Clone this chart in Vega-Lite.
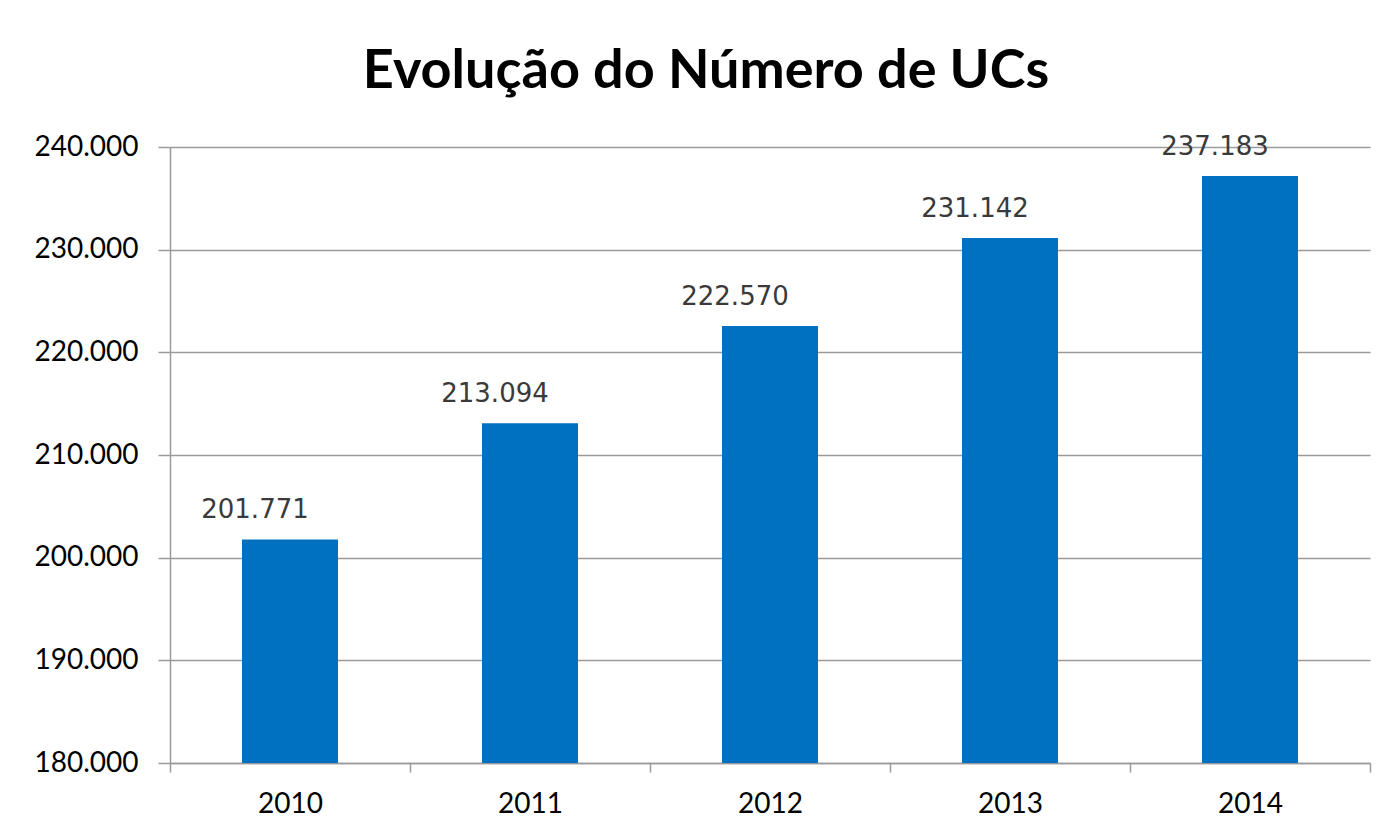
{
  "$schema": "https://vega.github.io/schema/vega-lite/v6.json",
  "width": 1200,
  "height": 616,
  "autosize": {"type": "none"},
  "padding": {"left": 170, "top": 147, "right": 17, "bottom": 76},
  "background": "white",
  "config": {
    "locale": {"number": {"decimal": ",", "thousands": ".", "grouping": [3], "currency": ["R$", ""]}},
    "view": {"stroke": null},
    "font": "Lato"
  },
  "title": {
    "text": "Evolução do Número de UCs",
    "font": "Lato",
    "fontSize": 54,
    "fontWeight": "bold",
    "color": "#000000",
    "anchor": "middle",
    "offset": 34,
    "dx": -64
  },
  "data": {
    "values": [
      {"ano": "2010", "ucs": 201771},
      {"ano": "2011", "ucs": 213094},
      {"ano": "2012", "ucs": 222570},
      {"ano": "2013", "ucs": 231142},
      {"ano": "2014", "ucs": 237183}
    ]
  },
  "encoding": {
    "x": {
      "field": "ano",
      "type": "nominal",
      "sort": null,
      "scale": {"paddingInner": 0, "paddingOuter": 0},
      "axis": {
        "title": null,
        "labelAngle": 0,
        "labelFont": "Lato",
        "labelFontSize": 28,
        "labelColor": "#000000",
        "labelPadding": 18,
        "tickBand": "extent",
        "tickSize": 9,
        "tickColor": "#9a9a9a",
        "tickWidth": 1.5,
        "domainColor": "#9a9a9a",
        "domainWidth": 1.5,
        "grid": false
      }
    },
    "y": {
      "field": "ucs",
      "type": "quantitative",
      "scale": {"domain": [180000, 240000], "zero": false, "nice": false},
      "axis": {
        "title": null,
        "values": [180000, 190000, 200000, 210000, 220000, 230000, 240000],
        "format": ",d",
        "labelFont": "Lato",
        "labelFontSize": 28,
        "labelColor": "#000000",
        "labelPadding": 20,
        "tickSize": 12,
        "tickColor": "#9a9a9a",
        "tickWidth": 1.5,
        "domainColor": "#9a9a9a",
        "domainWidth": 1.5,
        "grid": true,
        "gridColor": "#9a9a9a",
        "gridWidth": 1.5
      }
    }
  },
  "layer": [
    {
      "mark": {"type": "bar", "color": "#0070C0", "width": {"band": 0.4}},
      "encoding": {"y2": {"datum": 180000}}
    },
    {
      "mark": {"type": "text", "font": "DejaVu Sans", "fontSize": 26, "color": "#3a3a3a", "baseline": "alphabetic", "dy": -21, "dx": -35},
      "encoding": {"text": {"field": "ucs", "type": "quantitative", "format": ",d"}}
    }
  ]
}
